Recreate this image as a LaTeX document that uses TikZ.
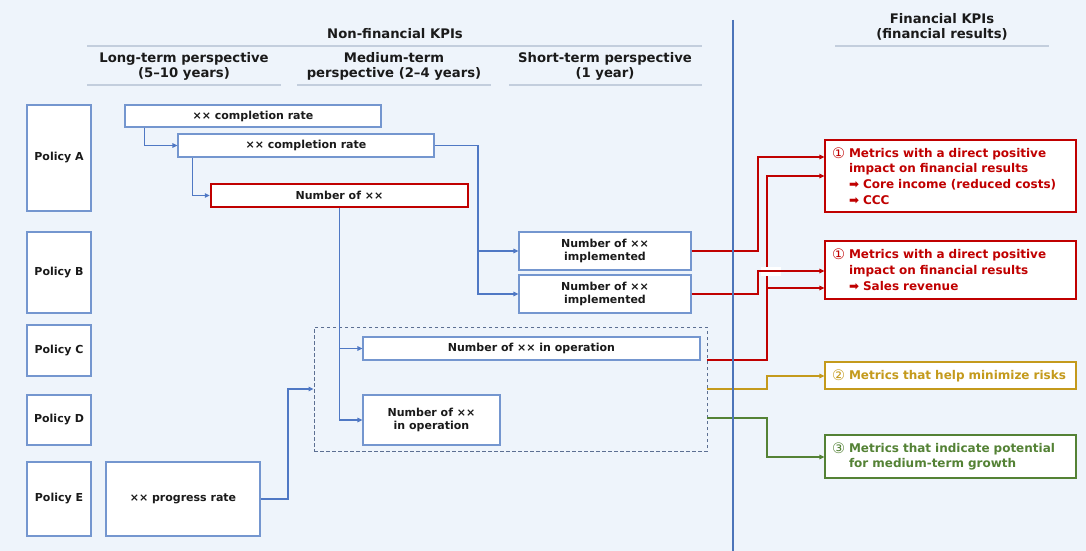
\documentclass[tikz,border=0pt]{standalone}
\usepackage{fontspec}
\setmainfont{DejaVu Sans}
\usetikzlibrary{arrows.meta}
\definecolor{bg}{HTML}{EEF4FB}
\definecolor{boxblue}{HTML}{7496CF}
\definecolor{linkblue}{HTML}{4F78C4}
\definecolor{divblue}{HTML}{4C74B9}
\definecolor{kred}{HTML}{C00000}
\definecolor{kgold}{HTML}{C49A1C}
\definecolor{kgreen}{HTML}{548235}
\definecolor{rulegrey}{HTML}{C3CEDD}
\definecolor{ink}{HTML}{1A1A1A}
\definecolor{dashgrey}{HTML}{5C6F92}

% box placed by its corner coordinates (x1,y1)-(x2,y2)
\newcommand\kbox[7]{%
  \node[#6,minimum width={(#4-#2)*1pt},minimum height={(#5-#3)*1pt}]
    (#1) at ({(#2+#4)/2},{(#3+#5)/2}) {#7};}
% enlarged circled number
\newcommand\cnum[1]{\raisebox{-0.08em}{\fontsize{14.5}{14.5}\mdseries\selectfont #1}}
\newcommand\cind{\hphantom{\cnum{①} }}

\begin{document}
\begin{tikzpicture}[x=1pt,y=-1pt,
  txt/.style={font=\bfseries\fontsize{11}{13}\selectfont,text=ink},
  box/.style={txt,draw=boxblue,line width=1.1pt,fill=white,align=center,inner sep=0pt},
  keybox/.style={box,draw=kred,line width=2.4pt},
  grpbox/.style={draw=dashgrey,line width=0.9pt,dash pattern=on 3.5pt off 2.5pt,inner sep=0pt},
  finbox/.style={draw=#1,line width=1.1pt,fill=white,text=#1,align=left,
    text width=237pt,inner xsep=7pt,inner ysep=0pt,
    font=\bfseries\fontsize{12}{15.8}\selectfont},
  head/.style={font=\bfseries\fontsize{13.2}{15}\selectfont,text=ink,align=center},
  hrule/.style={draw=rulegrey,line width=1.4pt},
  tip/.style={-{Triangle[length=5pt,width=4.5pt]}},
  link/.style={tip,draw=linkblue,line width=1.3pt},
  rlink/.style={tip,draw=kred,line width=1.3pt},
  glink/.style={tip,draw=#1,line width=1.3pt},
]
\useasboundingbox[fill=bg] (0,0) rectangle (1086,551);

% column headings
\node[head] (hnf) at (395,34) {Non-financial KPIs};
\draw[hrule] (87,46) -- (702,46);
\node[head] (hlong) at (184,66) {Long-term perspective\\(5--10 years)};
\node[head] (hmed) at (394,66) {Medium-term\\perspective (2--4 years)};
\node[head] (hshort) at (605,66) {Short-term perspective\\(1 year)};
\draw[hrule] (87,85) -- (281,85);
\draw[hrule] (297,85) -- (491,85);
\draw[hrule] (509,85) -- (702,85);
\node[head] (hfin) at (942,27) {Financial KPIs\\(financial results)};
\draw[hrule] (835,46) -- (1049,46);

% policies
\kbox{pA}{27}{105}{91}{211}{box}{Policy A}
\kbox{pB}{27}{232}{91}{313}{box}{Policy B}
\kbox{pC}{27}{325}{91}{376}{box}{Policy C}
\kbox{pD}{27}{395}{91}{445}{box}{Policy D}
\kbox{pE}{27}{462}{91}{536}{box}{Policy E}

% non-financial KPIs
\kbox{grp}{314}{327}{707}{451}{grpbox}{}
\kbox{cr1}{125}{105}{381}{127}{box}{×× completion rate}
\kbox{cr2}{178}{134}{434}{157}{box}{×× completion rate}
\kbox{num}{211}{184}{468}{207}{keybox}{Number of ××}
\kbox{imp1}{519}{232}{691}{270}{box}{Number of ××\\implemented}
\kbox{imp2}{519}{275}{691}{313}{box}{Number of ××\\implemented}
\kbox{op1}{363}{337}{700}{360}{box}{Number of ×× in operation}
\kbox{op2}{363}{395}{500}{445}{box}{Number of ××\\in operation}
\kbox{pr}{106}{462}{260}{536}{box}{×× progress rate}

% financial KPIs
\kbox{fin1}{825}{140}{1076}{212}{finbox=kred}{\cnum{①} Metrics with a direct positive\\\cind impact on financial results\\\cind ➡ Core income (reduced costs)\\\cind ➡ CCC}
\kbox{fin2}{825}{241}{1076}{299}{finbox=kred}{\cnum{①} Metrics with a direct positive\\\cind impact on financial results\\\cind ➡ Sales revenue}
\kbox{fin3}{825}{362}{1076}{389}{finbox=kgold}{\cnum{②} Metrics that help minimize risks}
\kbox{fin4}{825}{435}{1076}{478}{finbox=kgreen}{\cnum{③} Metrics that indicate potential\\\cind for medium-term growth}

% links inside the non-financial side
\draw[link] ([xshift=20pt]cr1.south west) |- (cr2.west);
\draw[link] ([xshift=15pt]cr2.south west) |- (num.west);
\coordinate (jA) at (478,145.5);
\draw[link] (cr2.east) -- (jA) |- (imp1.west);
\draw[link] (jA) |- (imp2.west);
\draw[link] (num.south) |- (op1.west);
\draw[link] (num.south) |- (op2.west);
\coordinate (jE) at (288,499);
\draw[link] (pr.east) -- (jE) |- (grp.west);

% links to the financial side
\coordinate (gR) at (707,360);
\coordinate (gY) at (707,389);
\coordinate (gG) at (707,418);
\coordinate (r1) at (758,157);
\coordinate (r2) at (767,176);
\coordinate (r3) at (758,271);
\coordinate (r4) at (767,288);
\coordinate (y1) at (767,376);
\coordinate (g1) at (767,457);
\draw[rlink] (imp1.east) -| (r1) -- (r1 -| fin1.west);
\draw[rlink] (gR) -| (r2) -- (r2 -| fin1.west);
\draw[rlink] (r4 |- gR) |- (r4 -| fin2.west);
\fill[white] (761,266.5) rectangle (781,275.5);
\draw[rlink] (imp2.east) -| (r3) -- (r3 -| fin2.west);
\draw[glink=kgold] (gY) -| (y1) -- (y1 -| fin3.west);
\draw[glink=kgreen] (gG) -| (g1) -- (g1 -| fin4.west);

% divider between the two KPI groups
\coordinate (dtop) at (733,20);
\coordinate (dbot) at (733,551);
\draw[divblue,line width=2.8pt] (dtop) -- (dbot);
\end{tikzpicture}
\end{document}
